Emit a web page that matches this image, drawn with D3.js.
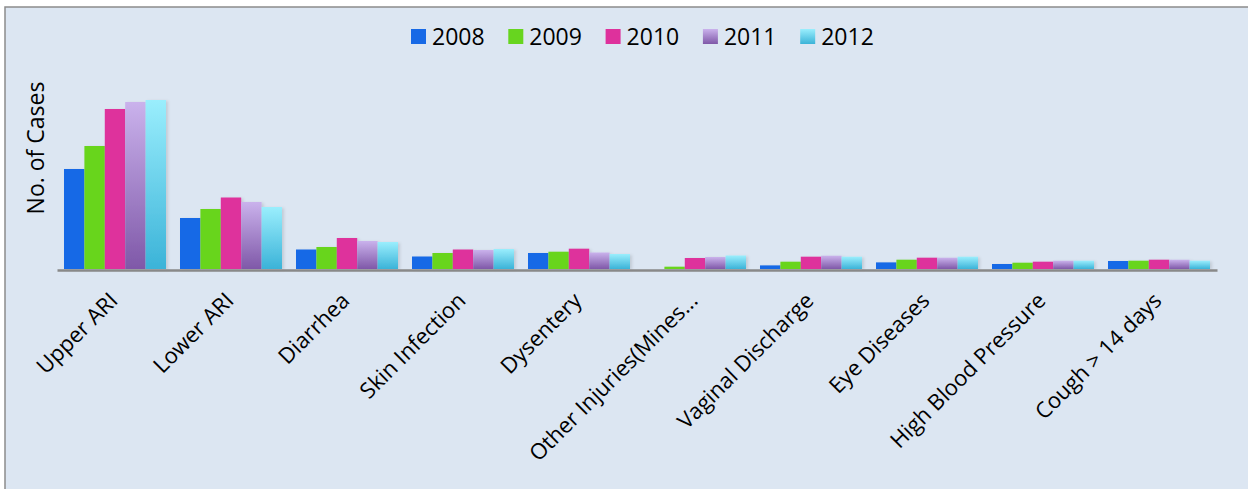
<!DOCTYPE html>
<html>
<head>
<meta http-equiv="Content-Type" content="text/html;charset=utf-8">
<script type="text/javascript" src="https://d3js.org/d3.v7.min.js"></script>
<style>
  body { margin: 0; background: #fff; }
  text { font-family: "Open Sans", "Noto Sans", sans-serif; fill: #000; }
</style>
</head>
<body>
<div id="chart"></div>
<script type="text/javascript">

// no y values are printed on the chart, so these are read as relative bar heights
var categories = ["Upper ARI", "Lower ARI", "Diarrhea", "Skin Infection", "Dysentery",
                  "Other Injuries(Mines...", "Vaginal Discharge", "Eye Diseases",
                  "High Blood Pressure", "Cough > 14 days"];
var years = ["2008", "2009", "2010", "2011", "2012"];

var cases2008 = [100, 51, 19.5, 12.5, 16, 0, 3.6, 6.6, 5, 8];
var cases2009 = [123, 60, 22, 16, 17.3, 2.3, 7.3, 9.3, 6.3, 8.3];
var cases2010 = [160, 71.5, 31, 19.5, 20.3, 11, 12.3, 11.3, 7.3, 9.3];
var cases2011 = [167, 67, 28, 19, 16.5, 12, 13.3, 11.3, 8.3, 9.3];
var cases2012 = [169, 62, 27, 20, 15, 13.5, 12.3, 12.3, 8.3, 8.3];

var series = [cases2008, cases2009, cases2010, cases2011, cases2012];

var width = 1248;
var height = 489;

var svg = d3.select("#chart").append("svg")
    .attr("width", width)
    .attr("height", height);

var defs = svg.append("defs");

function grad(id, top, bottom) {
  var g = defs.append("linearGradient").attr("id", id)
      .attr("x1", 0).attr("y1", 0).attr("x2", 0).attr("y2", 1);
  g.append("stop").attr("offset", "0%").attr("stop-color", top);
  g.append("stop").attr("offset", "100%").attr("stop-color", bottom);
}
grad("g2011", "#cab2ec", "#7f58a8");
grad("g2012", "#9aeefd", "#3bb3d8");

var shadow = defs.append("filter").attr("id", "shadow")
    .attr("x", "-20%").attr("y", "-20%").attr("width", "150%").attr("height", "150%");
shadow.append("feDropShadow").attr("dx", 2).attr("dy", 1)
    .attr("stdDeviation", 1.5).attr("flood-color", "#000").attr("flood-opacity", 0.12);

var fills = ["#1769e6", "#67d51f", "#de319c", "url(#g2011)", "url(#g2012)"];

// chart area
svg.append("rect")
    .attr("x", 5).attr("y", 7)
    .attr("width", width + 20).attr("height", height + 20)
    .attr("fill", "#dce6f2")
    .attr("stroke", "#8c8c8c")
    .attr("stroke-width", 1.5);

var x0 = d3.scaleBand()
    .domain(categories)
    .range([57, 1217])
    .paddingInner(14 / 116)
    .paddingOuter(7 / 116);

var x1 = d3.scaleBand()
    .domain(years)
    .range([0, x0.bandwidth()]);

var y = d3.scaleLinear()
    .domain([0, 170])
    .range([269, 99]);

var groups = svg.append("g").selectAll("g")
    .data(categories)
    .enter().append("g")
    .attr("transform", function (d) { return "translate(" + x0(d) + ",0)"; });

groups.selectAll("rect")
    .data(function (d, i) {
      return years.map(function (yr, k) { return { year: yr, k: k, value: series[k][i] }; });
    })
    .enter().append("rect")
    .filter(function (d) { return d.value > 0; })
    .attr("x", function (d) { return x1(d.year); })
    .attr("y", function (d) { return y(d.value); })
    .attr("width", x1.bandwidth())
    .attr("height", function (d) { return y(0) - y(d.value); })
    .attr("fill", function (d) { return fills[d.k]; })
    .attr("filter", "url(#shadow)");

var xAxis = svg.append("g")
    .attr("transform", "translate(0,270)")
    .call(d3.axisBottom(x0).tickSize(0).tickSizeOuter(0));

xAxis.select(".domain")
    .attr("stroke", "#898989")
    .attr("stroke-width", 2.5);

xAxis.selectAll(".tick text")
    .attr("font-family", "Open Sans")
    .attr("font-size", 22)
    .attr("fill", "#000")
    .attr("text-anchor", "end")
    .attr("x", 0).attr("y", 0).attr("dy", 0)
    .attr("transform", "translate(4,32) rotate(-45)");

// y title
svg.append("text")
    .attr("transform", "translate(44,148) rotate(-90)")
    .attr("text-anchor", "middle")
    .style("font-size", "23px")
    .text("No. of Cases");

// legend
var legend = svg.append("g").selectAll("g")
    .data(years)
    .enter().append("g")
    .attr("transform", function (d, i) { return "translate(" + (411 + i * 97.3) + ",0)"; });

legend.append("rect")
    .attr("x", 0).attr("y", 29)
    .attr("width", 15).attr("height", 15)
    .attr("fill", function (d, i) { return fills[i]; });

legend.append("text")
    .attr("x", 21).attr("y", 45)
    .style("font-size", "23px")
    .text(function (d) { return d; });

</script>
</body>
</html>
